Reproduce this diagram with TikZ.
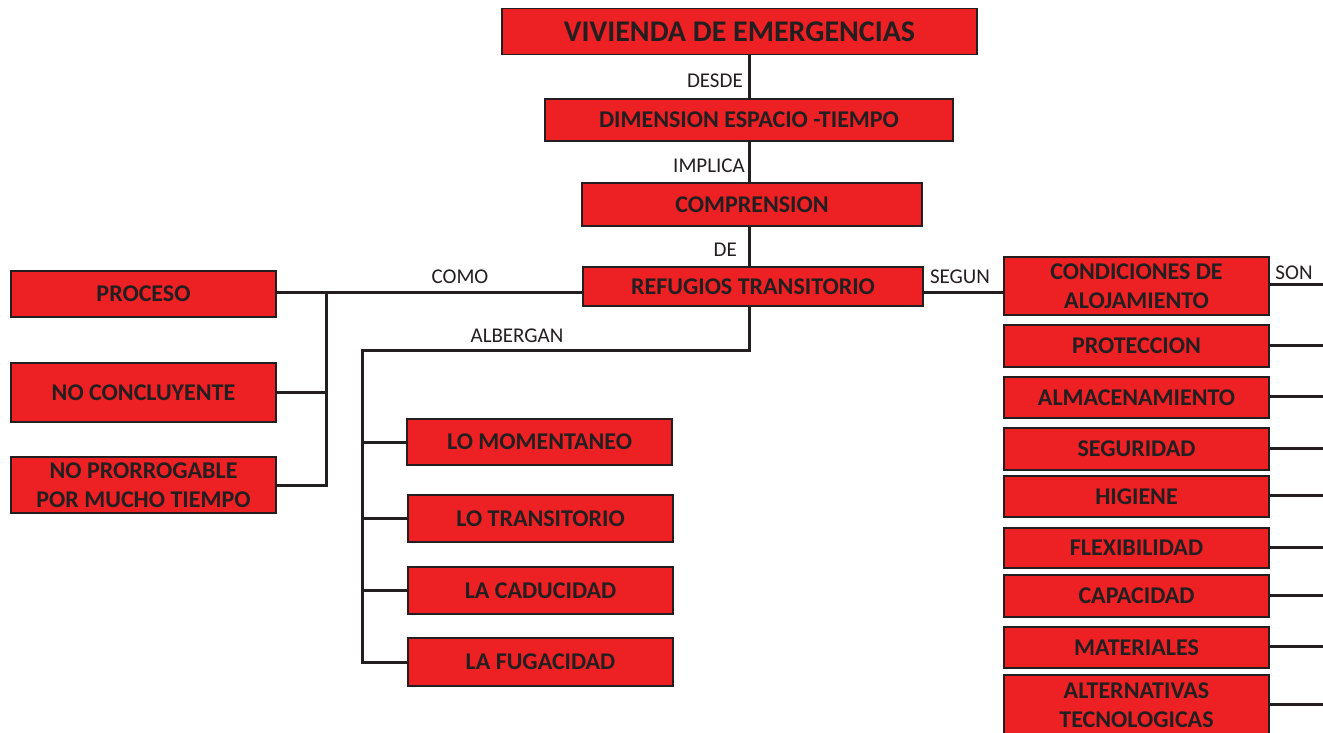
\documentclass[tikz,border=0pt]{standalone}
\usepackage{fontspec}
\setmainfont{Carlito}
\definecolor{boxred}{HTML}{ED2024}
\definecolor{ink}{HTML}{231F20}
\begin{document}
\begin{tikzpicture}[x=1pt,y=-1pt,
  box/.style={draw=ink, line width=1.2pt, fill=boxred, inner sep=0pt, align=center,
    text=ink, font=\bfseries\fontsize{24}{29}\selectfont},
  conn/.style={draw=ink, line width=3pt},
  lbl/.style={text=ink, inner sep=0pt, font=\fontsize{21}{25}\selectfont}]
\clip (0,0) rectangle (1323,732);
\fill[white] (0,0) rectangle (1323,732);
% central column
\node[box, minimum width=475, minimum height=46, font=\bfseries\fontsize{30}{36}\selectfont] (viv) at (739.5,31.5) {VIVIENDA DE EMERGENCIAS};
\node[box, minimum width=408, minimum height=42] (dim) at (749,120) {DIMENSION ESPACIO -TIEMPO};
\node[box, minimum width=340, minimum height=43] (comp) at (752,204.5) {COMPRENSION};
\node[box, minimum width=340, minimum height=39] (ref) at (753,286.5) {REFUGIOS TRANSITORIO};
% left group
\node[box, minimum width=265, minimum height=46] (proc) at (143.5,294) {PROCESO};
\node[box, minimum width=265, minimum height=59] (ncon) at (143.5,392.5) {NO CONCLUYENTE};
\node[box, minimum width=265, minimum height=56] (npro) at (143.5,485) {NO PRORROGABLE\\POR MUCHO TIEMPO};
% middle group
\node[box, minimum width=265, minimum height=46] (lmom) at (539.5,442) {LO MOMENTANEO};
\node[box, minimum width=265, minimum height=47] (ltra) at (540.5,518.5) {LO TRANSITORIO};
\node[box, minimum width=265, minimum height=47] (lcad) at (540.5,590.5) {LA CADUCIDAD};
\node[box, minimum width=265, minimum height=48] (lfug) at (540.5,662) {LA FUGACIDAD};
% right group
\node[box, minimum width=265, minimum height=58] (cond) at (1136.5,286) {CONDICIONES DE\\ALOJAMIENTO};
\node[box, minimum width=265, minimum height=42] (prot) at (1136.5,346) {PROTECCION};
\node[box, minimum width=265, minimum height=41] (alma) at (1136.5,397.5) {ALMACENAMIENTO};
\node[box, minimum width=265, minimum height=42] (segu) at (1136.5,449) {SEGURIDAD};
\node[box, minimum width=265, minimum height=41] (higi) at (1136.5,496.5) {HIGIENE};
\node[box, minimum width=265, minimum height=40] (flex) at (1136.5,548) {FLEXIBILIDAD};
\node[box, minimum width=265, minimum height=42] (capa) at (1136.5,596) {CAPACIDAD};
\node[box, minimum width=265, minimum height=41] (mate) at (1136.5,647.5) {MATERIALES};
\node[box, minimum width=265, minimum height=60] (alte) at (1136.5,705) {ALTERNATIVAS\\TECNOLOGICAS};
% helper coordinates
\coordinate (sp) at (749,0);
\coordinate (ly) at (0,292);
\coordinate (lx) at (326,0);
\coordinate (ay) at (0,350);
\coordinate (ax) at (362,0);
\coordinate (edge) at (1323,0);
% spine
\draw[conn] (viv.south -| sp) -- (dim.north -| sp);
\draw[conn] (dim.south -| sp) -- (comp.north -| sp);
\draw[conn] (comp.south -| sp) -- (ref.north -| sp);
\node[lbl, anchor=east] (l1) at (743,81) {DESDE};
\node[lbl, anchor=east] (l2) at (745,166) {IMPLICA};
\node[lbl, anchor=east] (l3) at (737,250) {DE};
% left bracket
\draw[conn] (ref.west |- ly) -- (proc.east |- ly);
\draw[conn] (lx |- ly) -- (lx |- npro.east) -- (npro.east);
\draw[conn] (lx |- ncon.east) -- (ncon.east);
\node[lbl] (l4) at (460,277) {COMO};
% albergan
\draw[conn] (ref.south -| sp) -- (sp |- ay) -- (ax |- ay) -- (ax |- lfug.west) -- (lfug.west);
\draw[conn] (ax |- lmom.west) -- (lmom.west);
\draw[conn] (ax |- ltra.west) -- (ltra.west);
\draw[conn] (ax |- lcad.west) -- (lcad.west);
\node[lbl] (l5) at (517,336) {ALBERGAN};
% segun
\draw[conn] (ref.east |- ly) -- (cond.west |- ly);
\node[lbl] (l6) at (960,277) {SEGUN};
% right lines
\draw[conn] ([yshift=2]cond.east) -- ([yshift=2]cond.east -| edge);
\node[lbl] (l7) at (1294,273) {SON};
\foreach \n in {prot,alma,segu,higi,flex,capa,mate,alte}
  \draw[conn] ([yshift=1]\n.east) -- ([yshift=1]\n.east -| edge);
\end{tikzpicture}
\end{document}
